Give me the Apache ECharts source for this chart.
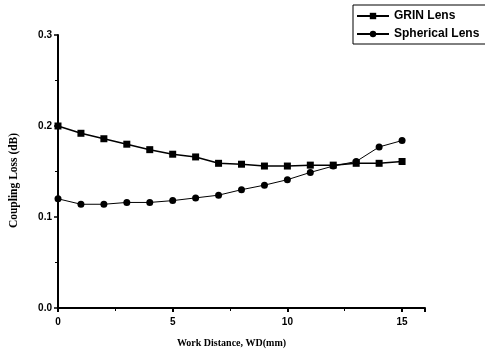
<!DOCTYPE html>
<html>
<head>
<meta charset="utf-8">
<script src="https://cdn.jsdelivr.net/npm/echarts@6/dist/echarts.min.js"></script>
<style>html,body{margin:0;padding:0;background:#fff}#c{width:485px;height:353px}</style>
</head>
<body>
<div id="c"></div>
<script>
const workDistance = [0,1,2,3,4,5,6,7,8,9,10,11,12,13,14,15];
const grinLens = [0.200,0.192,0.186,0.180,0.174,0.169,0.166,0.159,0.158,0.156,0.156,0.157,0.157,0.159,0.159,0.161];
const sphericalLens = [0.120,0.114,0.114,0.116,0.116,0.118,0.121,0.124,0.130,0.135,0.141,0.149,0.156,0.161,0.177,0.184];
const yTicks = [0.0,0.1,0.2,0.3];

const chart = echarts.init(document.getElementById('c'));
const pair = (xs, ys) => xs.map((x,i)=>[x, ys[i]]);
chart.setOption({
  animation:false,
  backgroundColor:'#fff',
  grid:{left:56,right:60,top:35,bottom:45},
  legend:{
    left:353, top:5, orient:'vertical', itemGap:6,
    padding:[5,20,4,3], borderColor:'#000', borderWidth:1,
    itemWidth:32, itemHeight:8,
    textStyle:{fontFamily:'Liberation Sans', fontSize:12, fontWeight:'bold', color:'#000'},
    data:['GRIN Lens','Spherical Lens']
  },
  xAxis:{
    type:'value', min:0, max:16, interval:5,
    name:'Work Distance, WD(mm)', nameLocation:'middle', nameGap:30,
    nameTextStyle:{fontFamily:'Liberation Serif', fontSize:10, fontWeight:'bold', color:'#000', padding:[0,20,0,0]},
    axisLine:{lineStyle:{color:'#000', width:2}},
    axisTick:{show:true, length:4, lineStyle:{color:'#000', width:2}},
    minorTick:{show:true, splitNumber:2, length:3, lineStyle:{color:'#000', width:1}},
    splitLine:{show:false},
    axisLabel:{fontFamily:'Liberation Sans', fontSize:10, fontWeight:'bold', color:'#000', margin:9,
      formatter:v=> (v%5===0 && v<=15) ? String(v) : ''}
  },
  yAxis:{
    type:'value', min:0, max:0.3, interval:0.1,
    name:'Coupling Loss (dB)', nameLocation:'middle', nameGap:38,
    nameTextStyle:{fontFamily:'Liberation Serif', fontSize:11.5, fontWeight:'bold', color:'#000', padding:[0,18,0,0]},
    axisLine:{show:true, lineStyle:{color:'#000', width:2}},
    axisTick:{show:true, length:4, lineStyle:{color:'#000', width:1.5}},
    minorTick:{show:true, splitNumber:2, length:3, lineStyle:{color:'#000', width:1}},
    splitLine:{show:false},
    axisLabel:{fontFamily:'Liberation Sans', fontSize:10, fontWeight:'bold', color:'#000', margin:6,
      formatter:v=>yTicks.find(t=>Math.abs(t-v)<1e-9)!==undefined ? v.toFixed(1) : ''}
  },
  series:[
    {name:'GRIN Lens', type:'line', data:pair(workDistance, grinLens),
     symbol:'rect', symbolSize:7, color:'#000',
     lineStyle:{color:'#000', width:1.5}, itemStyle:{color:'#000'}},
    {name:'Spherical Lens', type:'line', data:pair(workDistance, sphericalLens),
     symbol:'circle', symbolSize:7, color:'#000',
     lineStyle:{color:'#000', width:1}, itemStyle:{color:'#000'}}
  ]
});
</script>
</body>
</html>
